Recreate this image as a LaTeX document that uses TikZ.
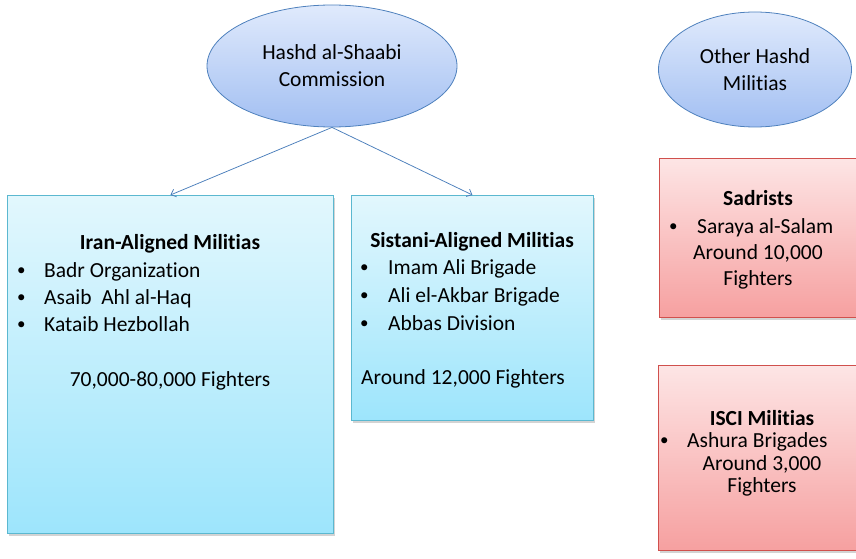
\documentclass[tikz,border=0pt]{standalone}
\usepackage{fontspec}
\setmainfont{Carlito}[Ligatures=NoCommon]
\usetikzlibrary{arrows.meta,shapes.geometric,shadows}

\definecolor{hubline}{HTML}{4F81BD}
\definecolor{hubtop}{HTML}{E0EAFC}
\definecolor{hubbot}{HTML}{A2BFF2}
\definecolor{cyanline}{HTML}{5BB8D0}
\definecolor{cyantop}{HTML}{E2F7FD}
\definecolor{cyanbot}{HTML}{9DE5FC}
\definecolor{redline}{HTML}{D0504D}
\definecolor{redtop}{HTML}{FDE5E5}
\definecolor{redbot}{HTML}{F6A0A0}
\definecolor{linkblue}{HTML}{4A7EBB}

\newcommand{\bul}{\raisebox{1.2pt}{\fontsize{17}{17}\selectfont\textbullet}}

\begin{document}
\begin{tikzpicture}[x=1pt,y=-1pt,
  every node/.style={font=\fontsize{21.5}{27}\selectfont,inner sep=0pt},
  hub/.style={ellipse,draw=hubline,line width=0.8pt,top color=hubtop,bottom color=hubbot,align=center},
  cyanbox/.style={anchor=north west,draw=cyanline,line width=0.8pt,top color=cyantop,bottom color=cyanbot,
    drop shadow={shadow xshift=1.5pt,shadow yshift=-2.5pt,opacity=0.35}},
  redbox/.style={anchor=north west,draw=redline,line width=0.8pt,top color=redtop,bottom color=redbot,
    drop shadow={shadow xshift=1.5pt,shadow yshift=-2.5pt,opacity=0.35}},
  link/.style={linkblue,line width=0.75pt,-{Straight Barb[length=4.5pt,width=8pt]}}]
  \clip (0,0) rectangle (856,559);

  % the two ellipses
  \node[hub,minimum width=250,minimum height=122] (hashd) at (332,66) {Hashd al-Shaabi\\Commission};
  \node[hub,minimum width=193,minimum height=115] (other) at (755,69.5) {Other Hashd\\Militias};

  % boxes
  \node[cyanbox,minimum width=326,minimum height=338] (iran) at (7,195) {};
  \node[cyanbox,minimum width=242,minimum height=225] (sistani) at (351,195) {};
  \node[redbox,minimum width=230,minimum height=159] (sadr) at (659,158) {};
  \node[redbox,minimum width=230,minimum height=185] (isci) at (658,365) {};

  \draw[link] (hashd.south) -- (iran.north);
  \draw[link] (hashd.south) -- (sistani.north);

  % Iran-aligned
  \node[anchor=base] (irantitle) at (170,249) {\bfseries Iran-Aligned Militias};
  \foreach \txt [count=\i] in {Badr Organization,Asaib\ \ Ahl al-Haq,Kataib Hezbollah}{
    \node[anchor=base west] (iranbul\i) at (17,{250+27*\i}) {\bul};
    \node[anchor=base west] (iran\i) at (44,{250+27*\i}) {\txt};
  }
  \node[anchor=base] (iranfighters) at (170,386) {70,000-80,000 Fighters};

  % Sistani-aligned
  \node[anchor=base] (sistanititle) at (472,247) {\bfseries Sistani-Aligned Militias};
  \foreach \txt [count=\i] in {Imam Ali Brigade,Ali el-Akbar Brigade,Abbas Division}{
    \node[anchor=base west] (sistanibul\i) at (360,{246+28*\i}) {\bul};
    \node[anchor=base west] (sistani\i) at (388,{246+28*\i}) {\txt};
  }
  \node[anchor=base west] (sistanifighters) at (361,384) {Around 12,000 Fighters};

  % Sadrists
  \node[anchor=base] (sadrtitle) at (758,205) {\bfseries Sadrists};
  \node[anchor=base west] (sadrbul) at (669,233) {\bul};
  \node[anchor=base west] (sadr1) at (697,233) {Saraya al-Salam};
  \node[anchor=base] (sadrnum) at (758,259) {Around 10,000};
  \node[anchor=base] (sadrfighters) at (758,285) {Fighters};

  % ISCI
  \node[anchor=base] (iscititle) at (762,425) {\bfseries ISCI Militias};
  \node[anchor=base west] (iscibul) at (660,447) {\bul};
  \node[anchor=base west] (isci1) at (687,447) {Ashura Brigades};
  \node[anchor=base] (iscinum) at (762,470) {Around 3,000};
  \node[anchor=base] (iscifighters) at (762,492) {Fighters};
\end{tikzpicture}
\end{document}
